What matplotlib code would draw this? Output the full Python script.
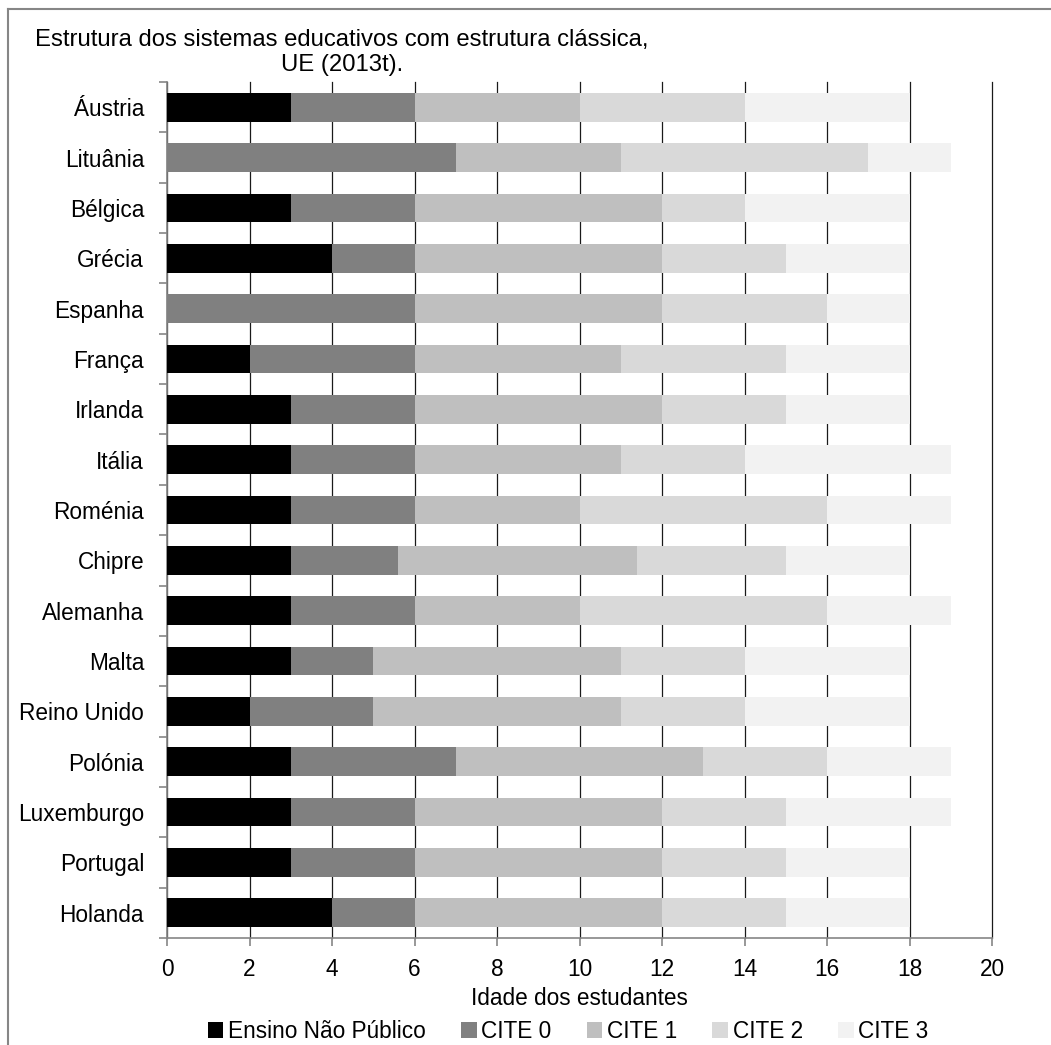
import matplotlib.pyplot as plt
from matplotlib.lines import Line2D
import numpy as np

paises = ['Áustria', 'Lituânia', 'Bélgica', 'Grécia', 'Espanha', 'França',
          'Irlanda', 'Itália', 'Roménia', 'Chipre', 'Alemanha', 'Malta',
          'Reino Unido', 'Polónia', 'Luxemburgo', 'Portugal', 'Holanda']

# duração (anos) de cada nível
nao_publico = [3, 0, 3, 4, 0, 2, 3, 3, 3, 3, 3, 3, 2, 3, 3, 3, 4]
cite0 = [3, 7, 3, 2, 6, 4, 3, 3, 3, 2.6, 3, 2, 3, 4, 3, 3, 2]
cite1 = [4, 4, 6, 6, 6, 5, 6, 5, 4, 5.8, 4, 6, 6, 6, 6, 6, 6]
cite2 = [4, 6, 2, 3, 4, 4, 3, 3, 6, 3.6, 6, 3, 3, 3, 3, 3, 3]
cite3 = [4, 2, 4, 3, 2, 3, 3, 5, 3, 3, 3, 4, 4, 3, 4, 3, 3]

series = [nao_publico, cite0, cite1, cite2, cite3]
nomes = ['Ensino Não Público', 'CITE 0', 'CITE 1', 'CITE 2', 'CITE 3']
cores = ['#000000', '#808080', '#bfbfbf', '#d9d9d9', '#f2f2f2']

fs = 16.3
plt.rcParams['font.family'] = 'Liberation Sans'

W, H = 1051, 1045
fig = plt.figure(figsize=(W/100, H/100), dpi=100)
ax = fig.add_axes([167/W, 1-938/H, (992-167)/W, (938-82)/H])

y = np.arange(len(paises))
base = np.zeros(len(paises))
for s, nome, c in zip(series, nomes, cores):
    ax.barh(y, s, left=base, height=0.57, color=c, label=nome, zorder=3)
    base = base + np.array(s)

ax.set_xlim(0, 20)
ax.set_ylim(len(paises)-0.5, -0.5)
ax.set_xticks(range(0, 21, 2))
ax.set_yticks(y)
ax.set_yticklabels(paises)
ax.set_yticks(np.arange(-0.5, len(paises), 1), minor=True)
ax.tick_params(axis='y', which='major', length=0, pad=16.5, labelsize=fs)
ax.tick_params(axis='y', which='minor', length=5.5, color='#868686', width=1.2)
ax.tick_params(axis='x', length=5.5, color='#868686', width=1.2, labelsize=fs, pad=9)
ax.grid(axis='x', color='#1a1a1a', lw=0.9, zorder=0)
for gl in ax.get_xgridlines():
    gl.set_clip_on(False)
for s in ['top', 'right']:
    ax.spines[s].set_visible(False)
for s in ['left', 'bottom']:
    ax.spines[s].set_color('#868686')
    ax.spines[s].set_linewidth(1.2)
ax.set_xlabel('Idade dos estudantes', fontsize=fs, labelpad=4)

fig.text(342/W, 1-46/H, 'Estrutura dos sistemas educativos com estrutura clássica,',
         ha='center', va='baseline', fontsize=17.2)
fig.text(342/W, 1-71/H, 'UE (2013t).', ha='center', va='baseline', fontsize=17.2)

ax.legend(loc='center', bbox_to_anchor=(568/W, 1-1031/H), bbox_transform=fig.transFigure,
          ncol=5, frameon=False, fontsize=fs, handlelength=0.7, handleheight=0.7,
          handletextpad=0.2, columnspacing=1.55, borderaxespad=0, borderpad=0)

# moldura do gráfico (só topo e lado esquerdo visíveis no recorte)
fig.add_artist(Line2D([8/W, 1], [1-9/H, 1-9/H], transform=fig.transFigure, color='#868686', lw=1.5))
fig.add_artist(Line2D([8/W, 8/W], [0, 1-9/H], transform=fig.transFigure, color='#868686', lw=1.5))

fig.savefig('out.png', dpi=100)
